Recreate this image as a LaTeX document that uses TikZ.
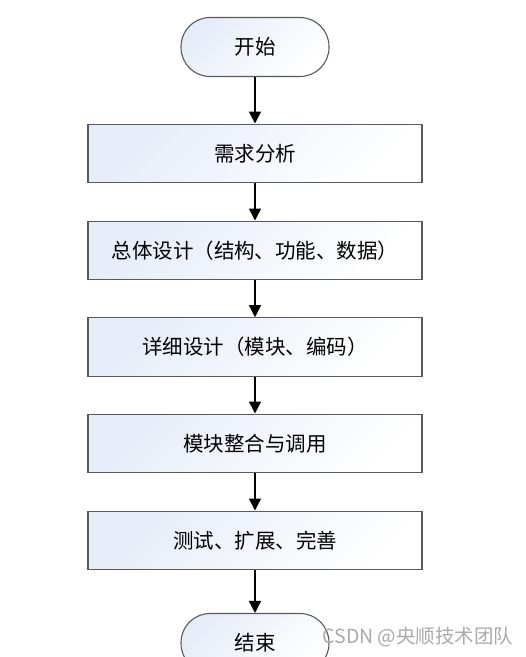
\documentclass[tikz,border=0pt]{standalone}
\usepackage{fontspec}
\newfontfamily\cjk{Noto Sans CJK SC}
\usetikzlibrary{arrows.meta}
\definecolor{boxgray}{RGB}{90,90,90}
\definecolor{boxblue}{RGB}{230,236,248}
\definecolor{markgray}{RGB}{170,170,170}
\tikzset{
  proc/.style={draw=boxgray, line width=1.1pt, top color=boxblue, bottom color=white, shading angle=45,
    minimum width=334pt, minimum height=58.5pt, font=\cjk\fontsize{20.5}{24}\selectfont},
  term/.style={proc, rounded corners=29pt, minimum width=148pt, minimum height=59pt},
}
\begin{document}
\begin{tikzpicture}[x=1pt,y=-1pt,>={Triangle[length=12pt,width=12pt]}]
                \useasboundingbox (0,0) rectangle (526,657);
                \node[term] (start) at (255,47) {开始};
                \node[proc] (req) at (255,153.3) {需求分析};
                \node[proc] (arch) at (255,250.3) {总体设计（结构、功能、数据）};
                \node[proc] (detail) at (255,347) {详细设计（模块、编码）};
                \node[proc] (merge) at (255,443.3) {模块整合与调用};
                \node[proc] (test) at (255,540.3) {测试、扩展、完善};
                \node[term] (stop) at (255,643) {结束};
                \node[anchor=west, text=markgray, font=\cjk\fontsize{19.5}{23}\selectfont] (mark) at (319,637) {CSDN @央顺技术团队};

                \draw[->,line width=1.5pt] (start) to (req); \draw[->,line width=1.5pt] (req) to (arch); \draw[->,line width=1.5pt] (arch) to (detail);
                \draw[->,line width=1.5pt] (detail) to (merge); \draw[->,line width=1.5pt] (merge) to (test); \draw[->,line width=1.5pt] (test) to (stop);
            \end{tikzpicture}
\end{document}
